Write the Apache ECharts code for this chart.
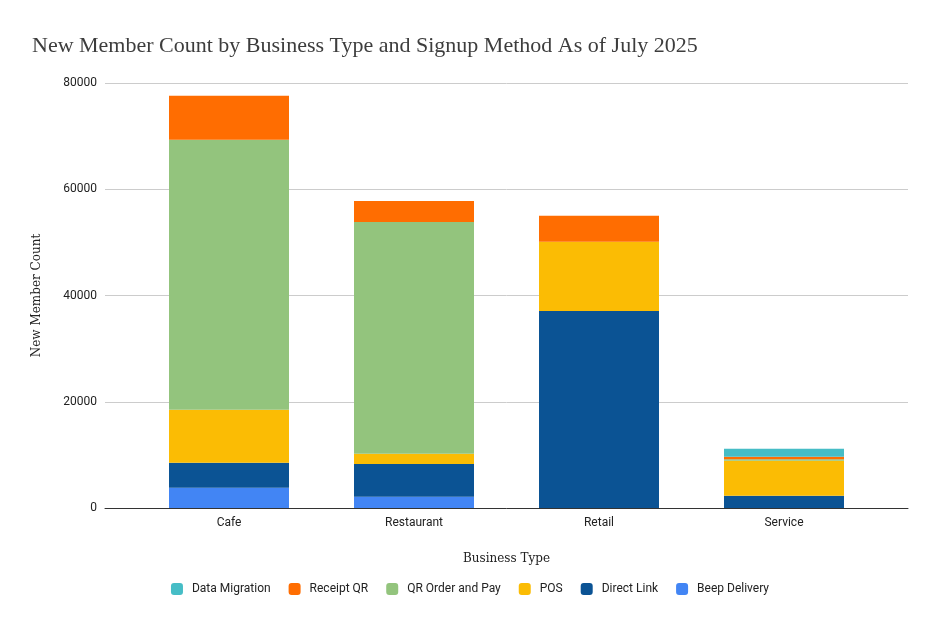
<!DOCTYPE html>
<html><head><meta charset="utf-8">
<script src="https://cdn.jsdelivr.net/npm/echarts@6/dist/echarts.min.js"></script>
<style>html,body{margin:0;padding:0;background:#fff}#c{width:940px;height:627px}</style>
</head><body><div id="c"></div>
<script>
const categories = ['Cafe', 'Restaurant', 'Retail', 'Service'];
const beepDelivery = [3800, 2100, 0, 0];
const directLink = [4700, 6200, 37100, 2300];
const pos = [10000, 1900, 13000, 6600];
const qrOrderAndPay = [50800, 43650, 0, 300];
const receiptQR = [8300, 3950, 4900, 450];
const dataMigration = [0, 0, 0, 1500];
const yTicks = [0, 20000, 40000, 60000, 80000];

const seriesDefs = [
  ['Beep Delivery', beepDelivery, '#4285F4'],
  ['Direct Link', directLink, '#0B5394'],
  ['POS', pos, '#FBBC04'],
  ['QR Order and Pay', qrOrderAndPay, '#93C47D'],
  ['Receipt QR', receiptQR, '#FF6D01'],
  ['Data Migration', dataMigration, '#46BDC6']
];

const chart = echarts.init(document.getElementById('c'), null, {renderer: 'canvas'});
const serifFont = 'DejaVu Serif';
chart.setOption({
  animation: false,
  backgroundColor: '#fff',
  title: {
    text: 'New Member Count by Business Type and Signup Method As of July 2025',
    left: 27, top: 30,
    textStyle: {fontFamily: 'Liberation Serif', fontWeight: 'normal', fontSize: 22, color: '#3d3d3d'}
  },
  legend: {
    top: 578, left: 'center',
    itemWidth: 12, itemHeight: 12, itemGap: 18,
    icon: 'roundRect',
    data: ['Data Migration', 'Receipt QR', 'QR Order and Pay', 'POS', 'Direct Link', 'Beep Delivery'],
    textStyle: {fontFamily: 'Roboto', fontSize: 12, color: '#222', padding: [0, 0, 0, 4]}
  },
  grid: [
    {left: 136.5, right: 63.5, top: 83, bottom: 119},
    {left: 105, right: 32, top: 83, bottom: 119}
  ],
  xAxis: [
    {type: 'category', gridIndex: 0, data: categories,
     axisLine: {show: false}, axisTick: {show: false},
     axisLabel: {margin: 9, fontFamily: 'Roboto', fontSize: 12, color: '#222'}},
    {type: 'value', gridIndex: 1, min: 0, max: 1,
     name: 'Business Type', nameLocation: 'middle', nameGap: 45,
     nameTextStyle: {fontFamily: serifFont, fontSize: 12, color: '#222'},
     axisLine: {show: true, lineStyle: {color: '#333', width: 1}},
     axisTick: {show: false}, axisLabel: {show: false}, splitLine: {show: false}}
  ],
  yAxis: [
    {type: 'value', gridIndex: 0, min: 0, max: 80000, interval: 20000, show: false, splitLine: {show: false}},
    {type: 'value', gridIndex: 1, min: yTicks[0], max: yTicks[yTicks.length - 1], interval: 20000,
     name: 'New Member Count', nameLocation: 'middle', nameGap: 62,
     nameTextStyle: {fontFamily: serifFont, fontSize: 12, color: '#222'},
     axisLine: {show: false}, axisTick: {show: false},
     axisLabel: {margin: 8, fontFamily: 'Roboto', fontSize: 12, color: '#222', formatter: v => String(v)},
     splitLine: {lineStyle: {color: '#cccccc', width: 1}}}
  ],
  series: seriesDefs.map(([name, data, color]) => ({
    name, type: 'bar', stack: 'total', data,
    xAxisIndex: 0, yAxisIndex: 0,
    barWidth: 120,
    itemStyle: {color}
  }))
});
</script></body></html>
